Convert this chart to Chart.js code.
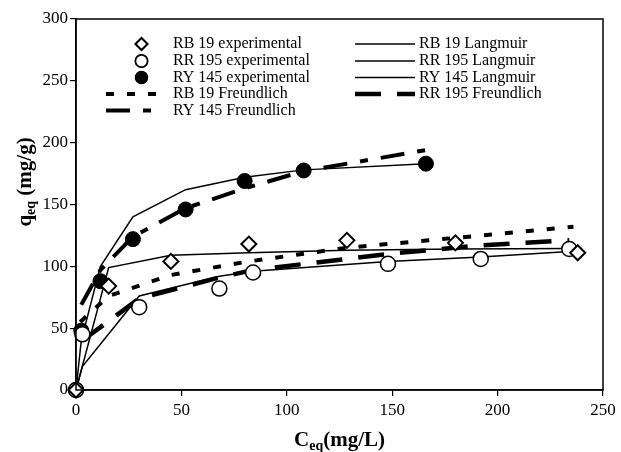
<!DOCTYPE html>
<html>
<head>
<meta charset="utf-8">
<script src="https://cdn.jsdelivr.net/npm/chart.js@4.4.1/dist/chart.umd.min.js"></script>
<style>
  html, body { margin: 0; padding: 0; background: #fff; }
  #wrap { width: 621px; height: 452px; }
</style>
</head>
<body>
<div id="wrap"><canvas id="iso" width="621" height="452"></canvas></div>
<script>
// experimental points
const rbCeq = [0, 15.5, 45, 82, 128.5, 180, 238];
const rbExp = [0, 84, 104, 118, 121, 119, 111];
const rrCeq = [0, 3, 30, 68, 84, 148, 192, 234];
const rrExp = [0, 45, 67, 82, 95, 102, 106, 114];
const ryCeq = [0, 2.5, 11.6, 27, 52, 80, 108, 166];
const ryExp = [0, 48, 88, 122, 146, 169, 177.5, 183];

// model curves
const rbLangCeq = [0, 15.5, 45, 82, 128.5, 180, 234];
const rbLang = [0, 99, 109, 111, 113, 114, 114.5];
const rrLang = [0, 19, 76, 92, 96, 104, 107.5, 112];
const ryLang = [0, 40, 100, 140, 162, 172, 178, 183];
const rbFreCeq = [2, 15.5, 45, 82, 128.5, 180, 236];
const rbFre = [55, 76, 93, 104, 115, 123, 132];
const rrFreCeq = [3, 30, 68, 84, 148, 192, 234];
const rrFre = [40, 74, 91, 97, 110, 117, 121];
const ryFreCeq = [2.5, 11.6, 27, 52, 80, 108, 166];
const ryFre = [69, 97, 124, 147, 163, 177, 194];

const xTicks = [0, 50, 100, 150, 200, 250];
const yTicks = [0, 50, 100, 150, 200, 250, 300];

const SERIF = '"Liberation Serif", "Times New Roman", serif';

function pts(xs, ys) {
  return xs.map((x, i) => ({ x: x, y: ys[i] }));
}

function lineSet(label, xs, ys, width, dash) {
  return {
    label: label,
    data: pts(xs, ys),
    showLine: true,
    borderColor: '#000',
    borderWidth: width,
    borderDash: dash,
    pointRadius: 0,
    fill: false,
    tension: 0,
    order: 2
  };
}

function markSet(label, xs, ys, style, fill, bw) {
  return {
    label: label,
    data: pts(xs, ys),
    showLine: false,
    pointStyle: style,
    pointRadius: 7.5,
    pointBackgroundColor: fill,
    pointBorderColor: '#000',
    pointBorderWidth: bw,
    clip: false,
    order: 1
  };
}

const dsRB = markSet('RB 19 experimental', rbCeq, rbExp, 'rectRot', '#fff', 2);
const dsRR = markSet('RR 195 experimental', rrCeq, rrExp, 'circle', '#fff', 1.5);
const dsRY = markSet('RY 145 experimental', ryCeq, ryExp, 'circle', '#000', 1);
const dsRBL = lineSet('RB 19 Langmuir', rbLangCeq, rbLang, 1.5, []);
const dsRRL = lineSet('RR 195 Langmuir', rrCeq, rrLang, 1.5, []);
const dsRYL = lineSet('RY 145 Langmuir', ryCeq, ryLang, 1.5, []);
const dsRBF = lineSet('RB 19 Freundlich', rbFreCeq, rbFre, 4, [8, 13]);
const dsRRF = lineSet('RR 195 Freundlich', rrFreCeq, rrFre, 4.5, [26, 16]);
const dsRYF = lineSet('RY 145 Freundlich', ryFreCeq, ryFre, 4, [24, 13, 8, 13]);

// legend: two columns inside the plot
const legendLeft = [dsRB, dsRR, dsRY, dsRBF, dsRYF];
const legendRight = [dsRBL, dsRRL, dsRYL, dsRRF];

const decor = {
  id: 'decor',
  afterDatasetsDraw(chart) {
    const ctx = chart.ctx;
    const a = chart.chartArea;
    ctx.save();
    // box round the plot
    ctx.strokeStyle = '#000';
    ctx.lineWidth = 1.5;
    ctx.strokeRect(a.left, a.top, a.right - a.left, a.bottom - a.top);

    ctx.font = '16px ' + SERIF;
    ctx.fillStyle = '#000';
    ctx.textBaseline = 'middle';
    ctx.textAlign = 'left';
    const rowY = [44, 61, 77.5, 94, 110.5];
    legendLeft.forEach((d, i) => {
      const y = rowY[i];
      if (d.showLine) {
        ctx.beginPath();
        ctx.setLineDash(d.borderDash);
        ctx.lineWidth = d.borderWidth;
        ctx.moveTo(106, y);
        ctx.lineTo(160, y);
        ctx.stroke();
        ctx.setLineDash([]);
      } else {
        Chart.helpers.drawPoint(ctx, {
          pointStyle: d.pointStyle,
          radius: 6,
          borderWidth: d.pointBorderWidth
        }, 141.5, y);
        ctx.fillStyle = d.pointBackgroundColor;
        ctx.fill();
        ctx.lineWidth = d.pointBorderWidth;
        ctx.stroke();
        ctx.fillStyle = '#000';
      }
      ctx.fillText(d.label, 173, y);
    });
    legendRight.forEach((d, i) => {
      const y = rowY[i];
      ctx.beginPath();
      ctx.setLineDash(d.borderDash);
      ctx.lineWidth = d.borderWidth;
      ctx.moveTo(355, y);
      ctx.lineTo(415, y);
      ctx.stroke();
      ctx.setLineDash([]);
      ctx.fillText(d.label, 419, y);
    });

    // axis titles with subscripts
    const big = 'bold 21px ' + SERIF;
    const small = 'bold 14px ' + SERIF;
    function titled(pre, sub, post, cx, cy) {
      ctx.font = big;
      const w1 = ctx.measureText(pre).width;
      const w3 = ctx.measureText(post).width;
      ctx.font = small;
      const w2 = ctx.measureText(sub).width;
      let x = cx - (w1 + w2 + w3) / 2;
      ctx.textAlign = 'left';
      ctx.textBaseline = 'alphabetic';
      ctx.font = big;
      ctx.fillText(pre, x, cy);
      x += w1;
      ctx.font = small;
      ctx.fillText(sub, x, cy + 4);
      x += w2;
      ctx.font = big;
      ctx.fillText(post, x, cy);
    }
    titled('C', 'eq', '(mg/L)', (a.left + a.right) / 2, 446);
    ctx.translate(31, 182);
    ctx.rotate(-Math.PI / 2);
    titled('q', 'eq', ' (mg/g)', 0, 0);
    ctx.restore();
  }
};

new Chart(document.getElementById('iso'), {
  type: 'scatter',
  data: {
    datasets: [dsRBL, dsRRL, dsRYL, dsRBF, dsRRF, dsRYF, dsRB, dsRR, dsRY]
  },
  options: {
    responsive: false,
    animation: false,
    layout: { padding: { top: 19, right: 18, left: 0, bottom: 0 } },
    plugins: {
      legend: { display: false },
      tooltip: { enabled: false }
    },
    scales: {
      x: {
        type: 'linear',
        min: 0,
        max: 250,
        afterBuildTicks: s => { s.ticks = xTicks.map(v => ({ value: v })); },
        afterFit: s => { s.height = 62; },
        border: { display: true, color: '#000', width: 1.5 },
        grid: { drawOnChartArea: false, drawTicks: true, tickLength: 6, color: '#000', lineWidth: 1.2 },
        ticks: { color: '#000', padding: 4, font: { family: SERIF, size: 17 } }
      },
      y: {
        type: 'linear',
        min: 0,
        max: 300,
        afterBuildTicks: s => { s.ticks = yTicks.map(v => ({ value: v })); },
        afterFit: s => { s.width = 76; },
        border: { display: true, color: '#000', width: 1.5 },
        grid: { drawOnChartArea: false, drawTicks: true, tickLength: 6, color: '#000', lineWidth: 1.2 },
        ticks: { color: '#000', padding: 2, font: { family: SERIF, size: 17 } }
      }
    }
  },
  plugins: [decor]
});
</script>
</body>
</html>
